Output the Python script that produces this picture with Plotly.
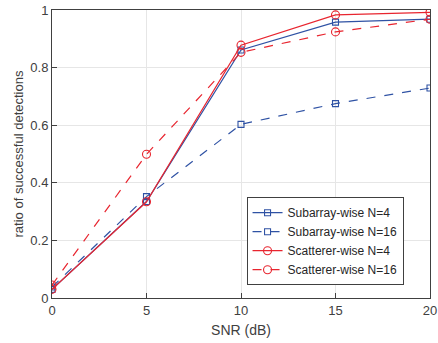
import plotly.graph_objects as go

snr = [0, 5, 10, 15, 20]
sub_n4 = [0.03, 0.335, 0.861, 0.958, 0.968]
sub_n16 = [0.038, 0.352, 0.603, 0.675, 0.729]
scat_n4 = [0.03, 0.334, 0.878, 0.983, 0.992]
scat_n16 = [0.045, 0.499, 0.853, 0.924, 0.968]
names = ["Subarray-wise N=4", "Subarray-wise N=16", "Scatterer-wise N=4", "Scatterer-wise N=16"]
x_ticks = [0, 5, 10, 15, 20]
y_ticks = [0, 0.2, 0.4, 0.6, 0.8, 1]
y_tick_text = ["0", "0.2", "0.4", "0.6", "0.8", "1"]

BLUE = "#2F52A4"
RED = "#E8252F"
FONT = "Liberation Sans, Arial, sans-serif"

fig = go.Figure()
series = [
    (sub_n4, names[0], BLUE, "solid", "square-open", 6),
    (sub_n16, names[1], BLUE, "dash", "square-open", 6),
    (scat_n4, names[2], RED, "solid", "circle-open", 8),
    (scat_n16, names[3], RED, "dash", "circle-open", 8),
]
for ys, nm, col, dash, sym, sz in series:
    fig.add_trace(go.Scatter(
        x=snr, y=ys, name=nm, mode="lines+markers",
        line=dict(color=col, width=1.2, dash=dash),
        marker=dict(symbol=sym, size=sz, color=col, line=dict(width=1.1, color=col)),
    ))

axis_common = dict(
    showline=True, linecolor="#404040", linewidth=1, mirror=True,
    showgrid=True, gridcolor="#E6E6E6", gridwidth=1,
    ticks="inside", ticklen=5, tickcolor="#404040",
    tickfont=dict(family=FONT, size=13, color="#404040"),
    zeroline=False, automargin=False,
)
fig.update_xaxes(range=[0, 20], tickvals=x_ticks,
                 title=dict(text="SNR (dB)", font=dict(family=FONT, size=14, color="#404040"), standoff=8),
                 **axis_common)
fig.update_yaxes(range=[0, 1], tickvals=y_ticks, ticktext=y_tick_text,
                 title=dict(text="ratio of successful detections", font=dict(family=FONT, size=13, color="#404040"), standoff=3),
                 **axis_common)

fig.update_layout(
    width=438, height=343,
    margin=dict(l=52, r=8, t=10, b=45),
    plot_bgcolor="white", paper_bgcolor="white",
    font=dict(family=FONT, color="#262626"),
    hovermode=False,
    legend=dict(
        x=0.93, y=0.35, xanchor="right", yanchor="top",
        bgcolor="white", bordercolor="#404040", borderwidth=1,
        font=dict(family=FONT, size=12, color="#262626"),
        itemwidth=30, tracegroupgap=0,
    ),
)

fig.write_html("out.html", config={"displayModeBar": False},
               post_script="document.body.style.margin='0';")
